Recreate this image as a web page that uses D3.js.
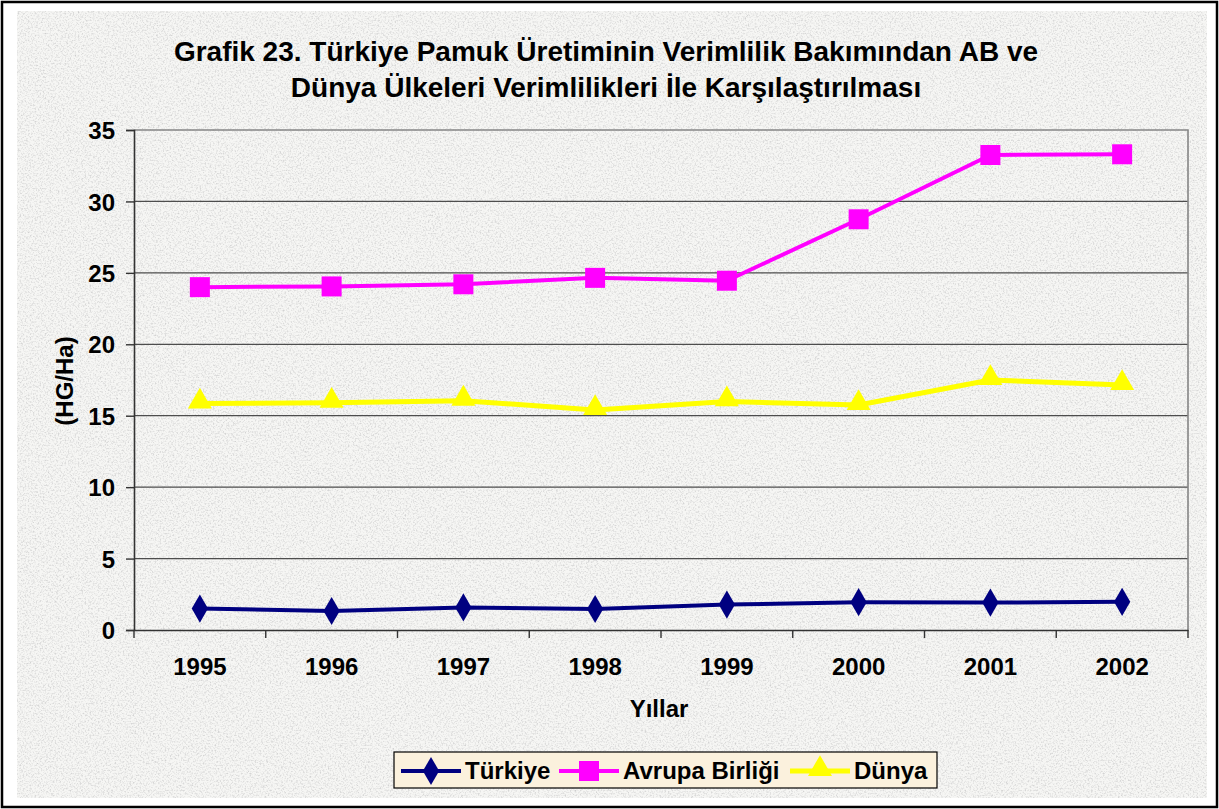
<!DOCTYPE html>
<html>
<head>
<meta charset="utf-8">
<script src="https://cdn.jsdelivr.net/npm/d3@7"></script>
<style>
  html, body { margin: 0; padding: 0; background: #ffffff; }
  svg { display: block; }
  text { font-family: "Liberation Sans", Arial, sans-serif; font-weight: bold; fill: #000; }
</style>
</head>
<body>
<svg id="chart" width="1219" height="809"></svg>
<script>
const years = ["1995", "1996", "1997", "1998", "1999", "2000", "2001", "2002"];
const turkiye = [1.5, 1.33, 1.58, 1.47, 1.78, 1.95, 1.92, 1.97];
const avrupa = [24.0, 24.05, 24.2, 24.65, 24.45, 28.75, 33.25, 33.3];
const dunya = [15.85, 15.9, 16.05, 15.4, 16.0, 15.75, 17.5, 17.15];
const yTicks = [0, 5, 10, 15, 20, 25, 30, 35];
const seriesNames = ["Türkiye", "Avrupa Birliği", "Dünya"];
const titleLines = ["Grafik 23. Türkiye Pamuk Üretiminin Verimlilik Bakımından AB ve",
                    "Dünya Ülkeleri Verimlilikleri İle Karşılaştırılması"];

const svg = d3.select("#chart");
const W = 1219, H = 809;
const plot = {left: 134, top: 130, right: 1188, bottom: 630};
const FS = 24;

// texture filter
const defs = svg.append("defs");
const f = defs.append("filter").attr("id", "granite")
  .attr("x", 0).attr("y", 0).attr("width", "100%").attr("height", "100%");
f.append("feTurbulence").attr("type", "fractalNoise").attr("baseFrequency", 0.6)
  .attr("numOctaves", 3).attr("seed", 7).attr("result", "t");
f.append("feColorMatrix").attr("in", "t").attr("type", "matrix")
  .attr("values", "0 0 0 0 0.62  0 0 0 0 0.62  0 0 0 0 0.62  2.2 0 0 0 -1.0");

// outer border and background
svg.append("rect").attr("x", 0).attr("y", 0).attr("width", W).attr("height", H).attr("fill", "#fff");
svg.append("rect").attr("x", 17).attr("y", 11).attr("width", 1190).attr("height", 787).attr("fill", "#f6f6f4");
svg.append("rect").attr("x", 17).attr("y", 11).attr("width", 1190).attr("height", 787)
  .attr("filter", "url(#granite)");
svg.append("rect").attr("x", 2).attr("y", 2).attr("width", W - 4).attr("height", H - 4)
  .attr("fill", "none").attr("stroke", "#000").attr("stroke-width", 2.5);

// title
svg.append("g").selectAll("text").data(titleLines).join("text")
  .attr("x", 606).attr("y", (d, i) => 61 + i * 36)
  .attr("text-anchor", "middle").attr("font-size", 28).text(d => d);

// scales
const x = d3.scaleBand().domain(years).range([plot.left, plot.right]);
const y = d3.scaleLinear().domain([0, 35]).range([plot.bottom, plot.top]);
const cx = d => x(d) + x.bandwidth() / 2;

// grid lines
svg.append("g").selectAll("line").data(yTicks.filter(t => t > 0 && t < 35)).join("line")
  .attr("x1", plot.left).attr("x2", plot.right)
  .attr("y1", d => y(d)).attr("y2", d => y(d))
  .attr("stroke", "#4d4d4d").attr("stroke-width", 1.2);

// frame top/right
svg.append("path")
  .attr("d", `M${plot.left},${plot.top}H${plot.right}V${plot.bottom}`)
  .attr("fill", "none").attr("stroke", "#858585").attr("stroke-width", 1.6);

// axes
const yAxis = d3.axisLeft(y).tickValues(yTicks).tickSize(8).tickPadding(11);
const gy = svg.append("g").attr("transform", `translate(${plot.left},0)`).call(yAxis);
gy.select(".domain").attr("stroke", "#333").attr("stroke-width", 1.6);
gy.selectAll(".tick line").attr("stroke", "#333").attr("stroke-width", 1.4);
gy.selectAll(".tick text").attr("font-size", FS).attr("font-family", "Liberation Sans, Arial, sans-serif")
  .attr("font-weight", "bold").attr("fill", "#000").attr("dy", "0.36em");

const xAxis = d3.axisBottom(x).tickSize(0).tickPadding(28);
const gx = svg.append("g").attr("transform", `translate(0,${plot.bottom})`).call(xAxis);
gx.select(".domain").attr("stroke", "#333").attr("stroke-width", 1.6);
gx.selectAll(".tick text").attr("font-size", FS).attr("font-family", "Liberation Sans, Arial, sans-serif")
  .attr("font-weight", "bold").attr("fill", "#000");
// x tick marks at band boundaries
const bounds = years.map(d => x(d)).concat([plot.right]);
svg.append("g").selectAll("line").data(bounds).join("line")
  .attr("x1", d => d).attr("x2", d => d)
  .attr("y1", plot.bottom).attr("y2", plot.bottom + 8)
  .attr("stroke", "#333").attr("stroke-width", 1.4);

// axis titles
svg.append("text").attr("x", 659).attr("y", 717).attr("text-anchor", "middle")
  .attr("font-size", FS).text("Yıllar");
svg.append("text").attr("transform", "translate(73,381) rotate(-90)")
  .attr("text-anchor", "middle").attr("font-size", FS).text("(HG/Ha)");

// series
const series = [
  {name: seriesNames[0], values: turkiye, color: "#000080", sym: d3.symbolDiamond, size: 230, width: 4},
  {name: seriesNames[1], values: avrupa, color: "#ff00ff", sym: d3.symbolSquare, size: 400, width: 4},
  {name: seriesNames[2], values: dunya, color: "#ffff00", sym: d3.symbolTriangle, size: 250, width: 5}
];
const line = d3.line().x(d => cx(d.year)).y(d => y(d.v));
series.forEach(s => {
  const pts = years.map((yr, i) => ({year: yr, v: s.values[i]}));
  const g = svg.append("g");
  g.append("path").datum(pts).attr("d", line).attr("fill", "none")
    .attr("stroke", s.color).attr("stroke-width", s.width).attr("stroke-linejoin", "round");
  g.selectAll("path.m").data(pts).join("path").attr("class", "m")
    .attr("transform", d => `translate(${cx(d.year)},${y(d.v) - (s.sym === d3.symbolTriangle ? 2 : 0)})`)
    .attr("d", d3.symbol().type(s.sym).size(s.size))
    .attr("fill", s.color);
});

// legend
const lg = svg.append("g");
lg.append("rect").attr("x", 394).attr("y", 752).attr("width", 543).attr("height", 36)
  .attr("fill", "#fbf1dd").attr("stroke", "#000").attr("stroke-width", 1.2);
const legendX = [401, 559, 790];
series.forEach((s, i) => {
  const x0 = legendX[i];
  lg.append("line").attr("x1", x0).attr("x2", x0 + 60).attr("y1", 771).attr("y2", 771)
    .attr("stroke", s.color).attr("stroke-width", s.width);
  lg.append("path").attr("transform", `translate(${x0 + 30},${771 - (s.sym === d3.symbolTriangle ? 2 : 0)})`)
    .attr("d", d3.symbol().type(s.sym).size(s.size)).attr("fill", s.color);
  lg.append("text").attr("x", x0 + 64).attr("y", 779).attr("font-size", FS).text(s.name);
});
</script>
</body>
</html>
